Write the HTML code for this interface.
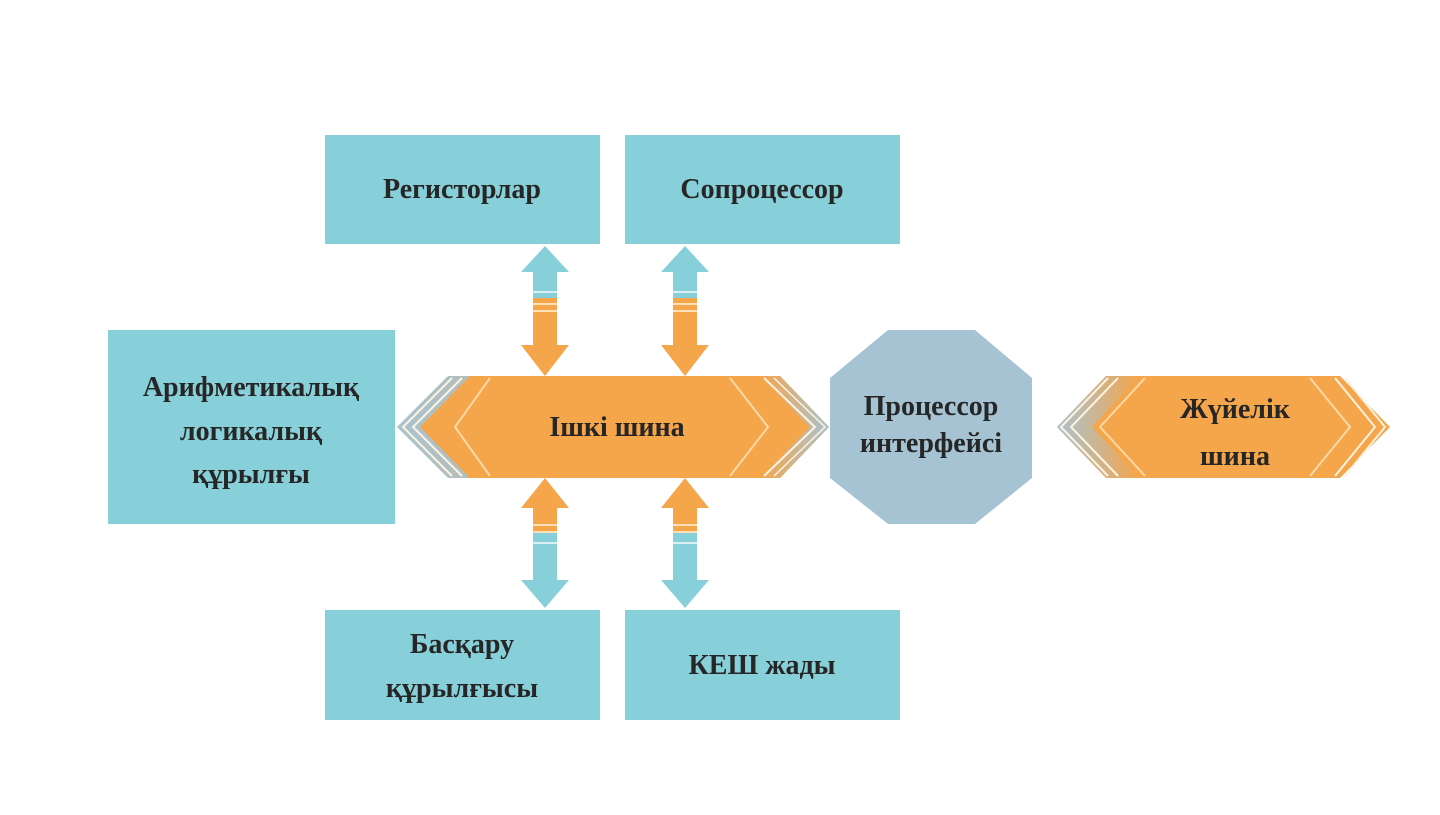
<!DOCTYPE html>
<html><head><meta charset="utf-8"><style>
body{margin:0;background:#fff;width:1440px;height:810px;overflow:hidden}
svg text{font-family:"Liberation Serif",serif;font-weight:bold;font-size:28px;fill:#262626;text-anchor:middle}
</style></head><body>
<svg width="1440" height="810" viewBox="0 0 1440 810">
<defs>
<linearGradient id="gl" x1="0" x2="1"><stop offset="0" stop-color="#a7c3d1"/><stop offset="1" stop-color="#f5a54a"/></linearGradient>
<linearGradient id="gr" x1="0" x2="1"><stop offset="0" stop-color="#f5a54a"/><stop offset="1" stop-color="#a7c3d1"/></linearGradient>
</defs>
<g fill="#87d0da">
<rect x="325" y="135" width="275" height="109"/>
<rect x="625" y="135" width="275" height="109"/>
<rect x="108" y="330" width="287" height="194"/>
<rect x="325" y="610" width="275" height="110"/>
<rect x="625" y="610" width="275" height="110"/>
</g>
<g id="t1">
<polygon points="545,246 569,272 557,272 557,300 533,300 533,272 521,272" fill="#87d0da"/>
<rect x="533" y="298" width="24" height="22" fill="#f5a54a"/>
<rect x="533" y="303" width="24" height="2" fill="#fde0b5"/>
<rect x="533" y="310" width="24" height="2" fill="#fde0b5"/>
<rect x="533" y="291" width="24" height="2" fill="#d8f0f4"/>
<polygon points="533,320 557,320 557,345 569,345 545,376 521,345 533,345" fill="#f5a54a"/>
</g>
<use href="#t1" x="140"/>
<g id="b1">
<polygon points="545,478 569,508 557,508 557,535 533,535 533,508 521,508" fill="#f5a54a"/>
<rect x="533" y="533" width="24" height="25" fill="#87d0da"/>
<rect x="533" y="531" width="24" height="2" fill="#fde0b5"/>
<rect x="533" y="524" width="24" height="2" fill="#fde0b5"/>
<rect x="533" y="542" width="24" height="2" fill="#d8f0f4"/>
<polygon points="533,556 557,556 557,580 569,580 545,608 521,580 533,580" fill="#87d0da"/>
</g>
<use href="#b1" x="140"/>
<polygon points="397,427 448,376 780,376 829,427 780,478 448,478" fill="url(#gl)"/>
<polygon points="470,376 780,376 829,427 780,478 470,478 420,427" fill="#f5a54a"/>
<polygon points="760,376 780,376 829,427 780,478 760,478 810,427" fill="url(#gr)"/>
<g fill="none" stroke="#fff3e0" stroke-width="2">
<polyline points="452,378 403,427 452,476"/>
<polyline points="462,378 413,427 462,476"/>
<polyline points="490,378 455,427 490,476" stroke="#fcd9a8"/>
<polyline points="764,378 815,427 764,476"/>
<polyline points="774,378 825,427 774,476" stroke-width="1.5"/>
<polyline points="730,378 768,427 730,476" stroke="#fcd9a8"/>
</g>
<text x="617" y="436">Ішкі шина</text>
<polygon points="888,330 975,330 1032,378 1032,478 975,524 888,524 830,478 830,378" fill="#a5c3d3"/>
<text x="931" y="415">Процессор</text>
<text x="931" y="452">интерфейсі</text>
<polygon points="1057,427 1106,376 1340,376 1390,427 1340,478 1106,478" fill="#f5a54a"/>
<polygon points="1057,427 1106,376 1140,376 1092,427 1140,478 1106,478" fill="url(#gl)"/>
<g fill="none" stroke="#fff3e0" stroke-width="2">
<polyline points="1108,378 1061,427 1108,476"/>
<polyline points="1118,378 1071,427 1118,476"/>
<polyline points="1145,378 1100,427 1145,476" stroke="#fcd9a8"/>
<polyline points="1345,378 1385,427 1345,476"/>
<polyline points="1335,378 1375,427 1335,476"/>
<polyline points="1310,378 1350,427 1310,476" stroke="#fcd9a8"/>
</g>
<text x="1235" y="418">Жүйелік</text>
<text x="1235" y="465">шина</text>
<text x="462" y="198">Регисторлар</text>
<text x="762" y="198">Сопроцессор</text>
<text x="251" y="396">Арифметикалық</text>
<text x="251" y="440">логикалық</text>
<text x="251" y="483">құрылғы</text>
<text x="462" y="653">Басқару</text>
<text x="462" y="697">құрылғысы</text>
<text x="762" y="674">КЕШ жады</text>
</svg>
</body></html>
